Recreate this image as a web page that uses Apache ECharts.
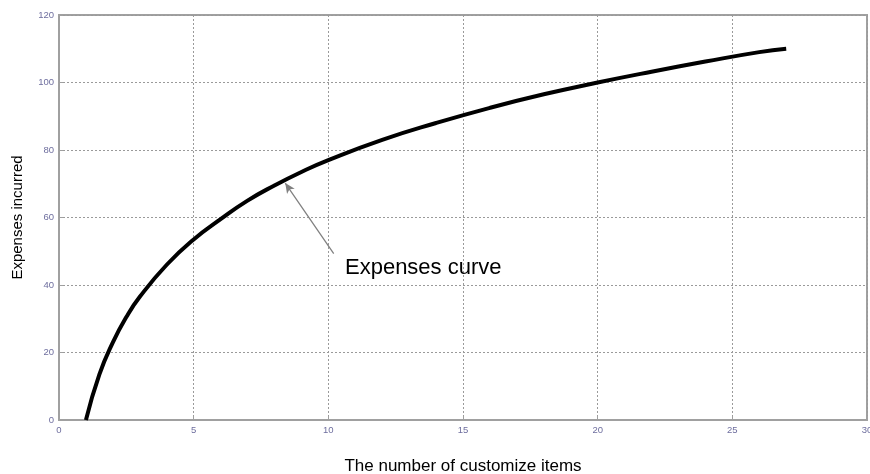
<!DOCTYPE html>
<html>
<head>
<meta charset="utf-8">
<script src="https://cdn.jsdelivr.net/npm/echarts@6/dist/echarts.min.js"></script>
<style>html,body{margin:0;padding:0;background:#fff}#c{width:870px;height:474px}</style>
</head>
<body>
<div id="c"></div>
<script>
var xValues = [1, 1.5, 2, 2.5, 3, 4, 5, 6, 7, 8, 9, 10, 12, 14, 16, 18, 20, 22, 24, 26, 27];
var yValues = [0, 13.5, 23, 30.5, 36.5, 46, 53.5, 59.5, 65, 69.5, 73.5, 77, 83, 88, 92.5, 96.5, 100, 103.2, 106.2, 109, 110];
var xTicks = [0, 5, 10, 15, 20, 25, 30];
var yTicks = [0, 20, 40, 60, 80, 100, 120];
var annotationText = 'Expenses curve';
var arrowHead = [8.4, 70.2];
var arrowTail = [10.2, 49.3];
var textAnchor = [10.6, 45.2];

var chart = echarts.init(document.getElementById('c'));
var data = xValues.map(function (x, i) { return [x, yValues[i]]; });
var tickColor = '#6e6e9e';
var option = {
  animation: false,
  grid: { left: 59, right: 3, top: 15, bottom: 54, show: true, borderColor: '#a0a0a0', borderWidth: 2,
    outerBoundsMode: 'none', containLabel: false },
  xAxis: {
    type: 'value', min: 0, max: 30, interval: 5,
    name: 'The number of customize items', nameLocation: 'middle', nameGap: 38,
    nameTextStyle: { color: '#000', fontSize: 17, fontFamily: 'Liberation Sans' },
    axisLine: { show: true, lineStyle: { color: '#a0a0a0', width: 2 } },
    axisTick: { show: true, inside: true, length: 4, lineStyle: { color: '#a0a0a0' } },
    axisLabel: { color: tickColor, fontSize: 9.5, margin: 5, fontFamily: 'Liberation Sans',
      formatter: function (v) { return xTicks.indexOf(v) >= 0 ? String(v) : ''; } },
    splitLine: { show: true, lineStyle: { color: '#9a9a9a', type: [2, 2], width: 1 } }
  },
  yAxis: {
    type: 'value', min: 0, max: 120, interval: 20,
    name: 'Expenses incurred', nameLocation: 'middle', nameGap: 34, nameRotate: 90,
    nameTextStyle: { color: '#000', fontSize: 15, fontFamily: 'Liberation Sans' },
    axisLine: { show: true, lineStyle: { color: '#a0a0a0', width: 2 } },
    axisTick: { show: true, inside: true, length: 4, lineStyle: { color: '#a0a0a0' } },
    axisLabel: { color: tickColor, fontSize: 9.5, margin: 5, fontFamily: 'Liberation Sans',
      formatter: function (v) { return yTicks.indexOf(v) >= 0 ? String(v) : ''; } },
    splitLine: { show: true, lineStyle: { color: '#9a9a9a', type: [2, 2], width: 1 } }
  },
  series: [{
    type: 'line', data: data, smooth: true, symbol: 'none',
    lineStyle: { color: '#000', width: 4 },
    markLine: {
      silent: true, symbol: ['none', 'arrow'], symbolSize: [7, 10],
      label: { show: false },
      lineStyle: { color: '#808080', width: 1.2, type: 'solid' },
      data: [[{ coord: arrowTail }, { coord: arrowHead }]]
    },
    markPoint: {
      silent: true, symbol: 'rect', symbolSize: 1,
      itemStyle: { color: 'rgba(0,0,0,0)' },
      data: [{ coord: textAnchor,
        label: { show: true, formatter: annotationText, position: 'right', distance: 0,
          color: '#000', fontSize: 22, fontFamily: 'Liberation Sans' } }]
    }
  }]
};
chart.setOption(option);
</script>
</body>
</html>
